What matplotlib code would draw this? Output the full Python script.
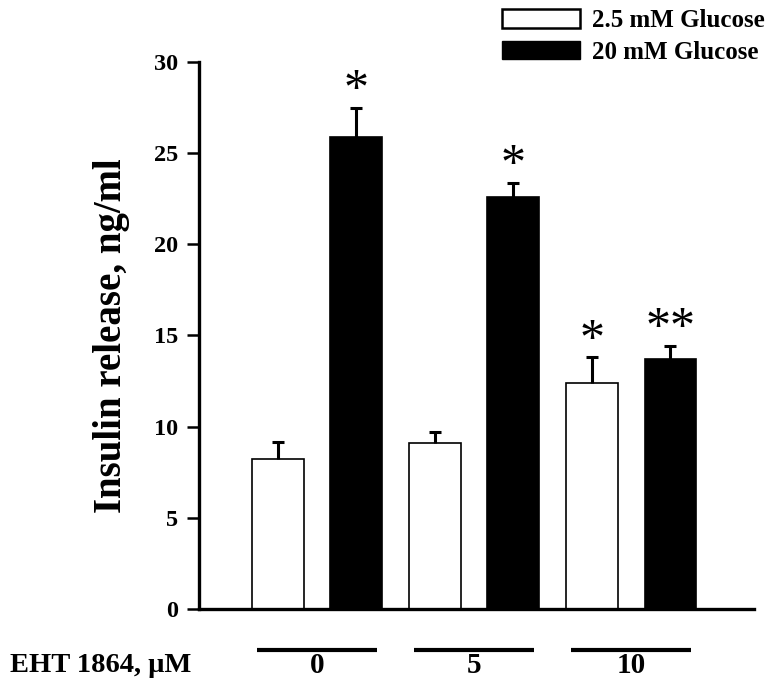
import matplotlib.pyplot as plt
import numpy as np
from matplotlib.patches import Patch
from matplotlib.transforms import blended_transform_factory

# EHT 1864 doses and insulin release (ng/ml), mean and SEM
doses = ['0', '5', '10']
low_glucose = [8.24, 9.1, 12.4]
low_err = [0.9, 0.6, 1.4]
high_glucose = [25.88, 22.57, 13.7]
high_err = [1.62, 0.8, 0.75]
low_marks = ['', '', '*']
high_marks = ['*', '*', '**']
series_labels = ['2.5 mM Glucose', '20 mM Glucose']

plt.rcParams['font.family'] = ['Liberation Serif', 'DejaVu Serif']
plt.rcParams['font.weight'] = 'bold'

fig = plt.figure(figsize=(7.78, 6.89), dpi=100)
ax = fig.add_axes([0.2558, 0.1161, 0.713, 0.794])

x = np.arange(len(doses))
off = 0.25
width = 0.33

ax.bar(x - off, low_glucose, width, color='white', edgecolor='black', linewidth=1.2, zorder=2)
ax.bar(x + off, high_glucose, width, color='black', edgecolor='black', linewidth=1.2, zorder=2)
zeros = np.zeros(len(doses))
for pos, vals, errs in [(x - off, low_glucose, low_err), (x + off, high_glucose, high_err)]:
    eb = ax.errorbar(pos, vals, yerr=[zeros, errs], fmt='none', ecolor='black',
                     elinewidth=2.2, capsize=4.5, capthick=2.2, zorder=3)
    eb[1][0].set_visible(False)  # hide lower caps

# significance stars above error bars
for xi, m, e, s in zip(x - off, low_glucose, low_err, low_marks):
    if s:
        ax.text(xi, m + e - 0.35, s, ha='center', va='bottom', fontsize=36, fontweight='normal')
for xi, m, e, s in zip(x + off, high_glucose, high_err, high_marks):
    if s:
        ax.text(xi, m + e - 0.35, s, ha='center', va='bottom', fontsize=36, fontweight='normal')

ax.set_xlim(-0.75, 2.78)
ax.set_ylim(0, 30)
ax.set_yticks([0, 5, 10, 15, 20, 25, 30])
ax.set_xticks([])
for side in ['top', 'right']:
    ax.spines[side].set_visible(False)
ax.spines['left'].set_linewidth(2.4)
ax.spines['bottom'].set_linewidth(2.4)
ax.tick_params(axis='y', direction='out', length=9, width=1.8, labelsize=17.5, pad=6)
for lbl in ax.get_yticklabels():
    lbl.set_fontweight('bold')
ax.set_ylabel('Insulin release, ng/ml', fontsize=28, fontweight='bold', labelpad=17)

# dose bars and labels under the axis
trans = blended_transform_factory(ax.transData, ax.transAxes)
for xi, d in zip(x, doses):
    ax.plot([xi - 0.38, xi + 0.38], [-0.075, -0.075], color='black', lw=3,
            transform=trans, clip_on=False, solid_capstyle='butt')
    ax.text(xi, -0.103, d, transform=trans, ha='center', va='center',
            fontsize=21, fontweight='bold')
fig.text(0.013, 0.0348, 'EHT 1864, \u03bcM', ha='left', va='center',
         fontsize=20.5, fontweight='bold')

handles = [Patch(facecolor='white', edgecolor='black', linewidth=1.8),
           Patch(facecolor='black', edgecolor='black')]
fig.legend(handles, series_labels, loc='upper right', bbox_to_anchor=(1.006, 1.012),
           frameon=False, handlelength=3.1, handleheight=0.75,
           handletextpad=0.5, labelspacing=0.35, borderpad=0.2,
           prop={'weight': 'bold', 'size': 18})

fig.savefig('out.png', dpi=100)
